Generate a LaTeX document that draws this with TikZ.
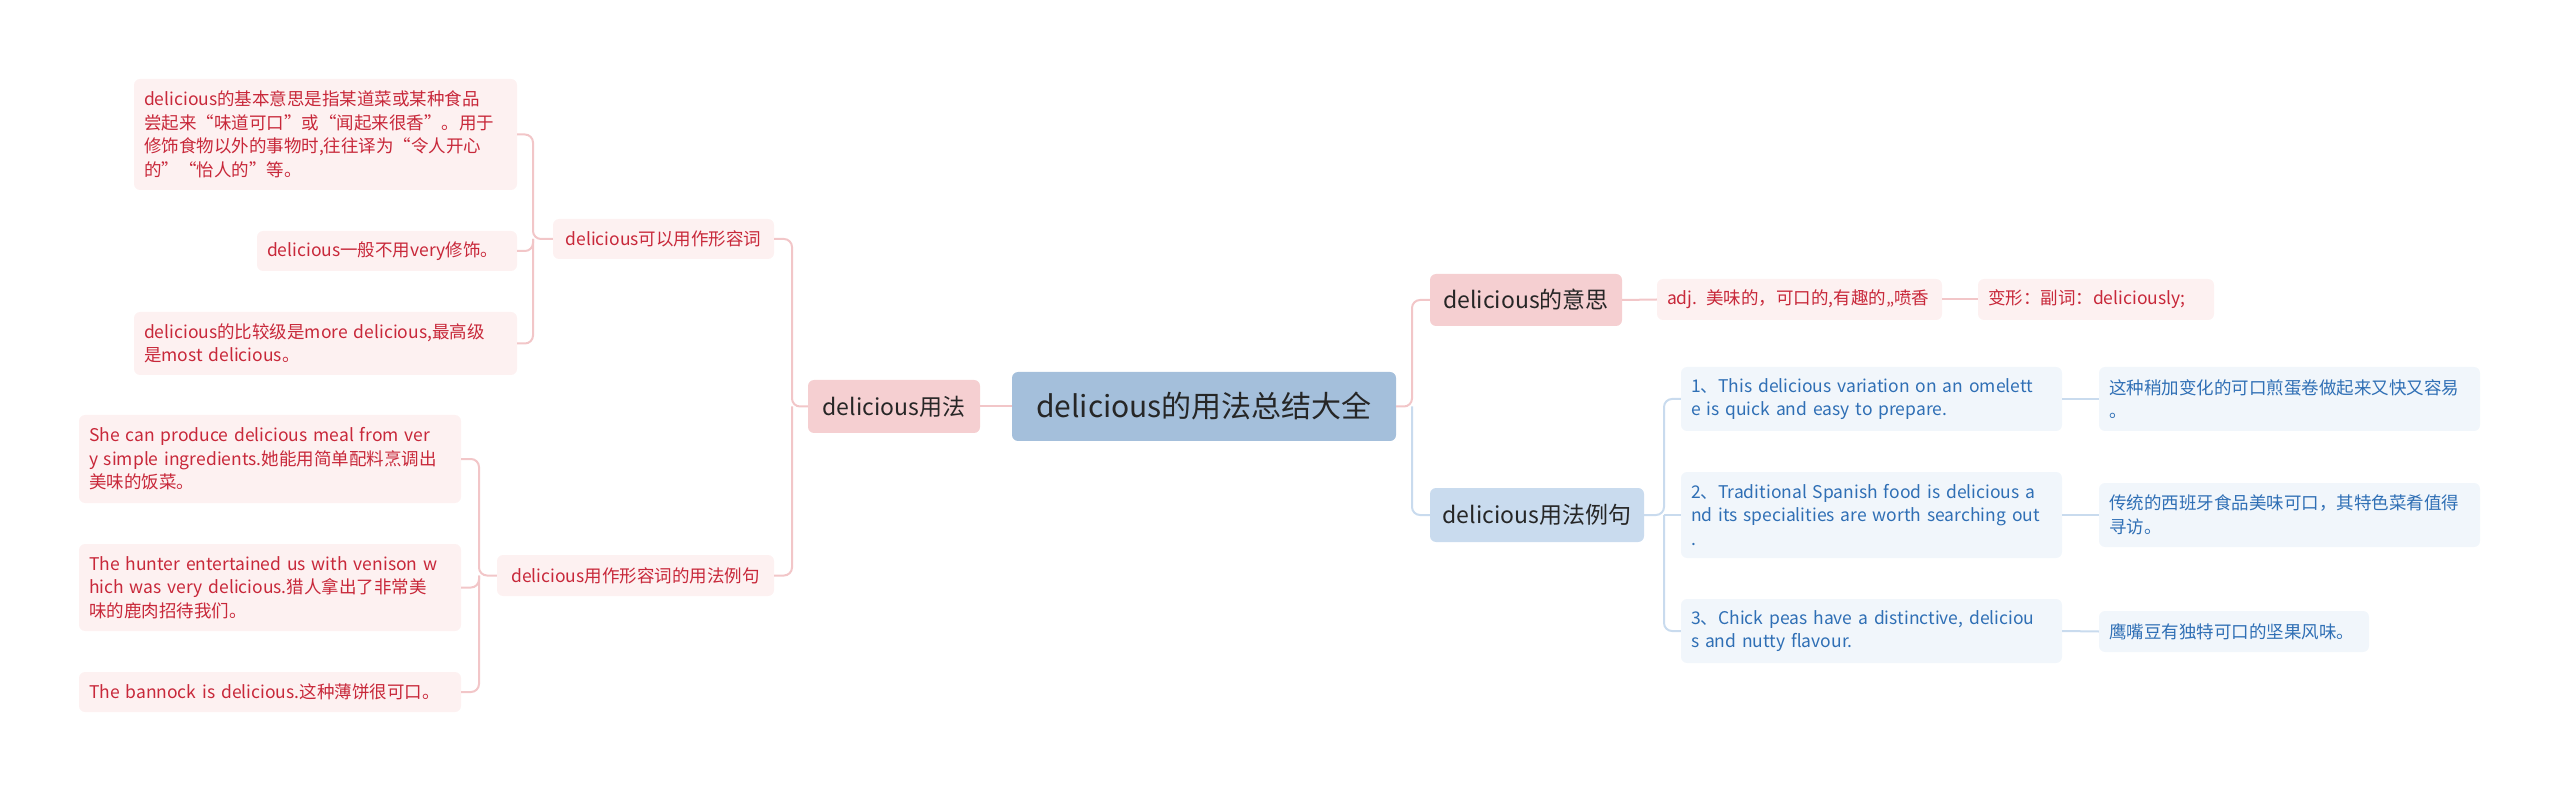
\documentclass[tikz,border=0pt]{standalone}
\usepackage{fontspec}
\setmainfont{Noto Sans CJK SC}
\definecolor{pkline}{HTML}{F2C6C8}
\definecolor{bline}{HTML}{C9DBEE}
\definecolor{pkfill}{HTML}{FDF1F1}
\definecolor{pktext}{HTML}{C8283A}
\definecolor{pkmid}{HTML}{F5CFD1}
\definecolor{bfill}{HTML}{F1F6FB}
\definecolor{btext}{HTML}{2F6FB5}
\definecolor{bmid}{HTML}{C9DBEE}
\definecolor{rootfill}{HTML}{A4BFDB}
\tikzset{
  box/.style={rectangle,rounded corners=6pt,inner xsep=10pt,inner ysep=0pt,align=left,anchor=center},
  pleaf/.style={box,fill=pkfill,text=pktext,font=\fontsize{17.5}{23.5}\selectfont},
  bleaf/.style={box,fill=bfill,text=btext,font=\fontsize{17.5}{23.5}\selectfont},
  pmid/.style={box,fill=pkmid,text=black!85,font=\fontsize{23}{28}\selectfont,align=center},
  bmidn/.style={box,fill=bmid,text=black!85,font=\fontsize{23}{28}\selectfont,align=center},
  pl/.style={draw=pkline,line width=2pt,rounded corners=8pt},
  bl/.style={draw=bline,line width=2pt,rounded corners=8pt},
  bx/.style 2 args={text width=#1pt-20pt,minimum height=#2pt},
}
\begin{document}
\begin{tikzpicture}[x=1pt,y=-1pt]
\useasboundingbox (0,0) rectangle (2560,791);
\node[box,fill=rootfill,text=black!85,font=\fontsize{30}{36}\selectfont,minimum width=384pt,minimum height=69pt,align=center] (root) at (1204,406.5) {delicious的用法总结大全};
% left
\node[pmid,minimum width=172pt,minimum height=53pt] (yf) at (894,406.5) {delicious用法};
\node[pleaf,bx={221}{40},align=center] (kyy) at (663.5,239) {delicious可以用作形容词};
\node[pleaf,bx={277}{41},align=center] (lj) at (635.5,575.5) {delicious用作形容词的用法例句};
\node[pleaf,bx={383}{111}] (a) at (325.5,134.5) {delicious的基本意思是指某道菜或某种食品\\尝起来“味道可口”或“闻起来很香”。用于\\修饰食物以外的事物时,往往译为“令人开心\\的”“怡人的”等。};
\node[pleaf,bx={260}{40}] (b) at (387,251) {delicious一般不用very修饰。};
\node[pleaf,bx={383}{63}] (c) at (325.5,343.5) {delicious的比较级是more delicious,最高级\\是most delicious。};
\node[pleaf,bx={382}{88}] (d) at (270,459) {She can produce delicious meal from ver\\y simple ingredients.她能用简单配料烹调出\\美味的饭菜。};
\node[pleaf,bx={382}{87}] (e) at (270,587.5) {The hunter entertained us with venison w\\hich was very delicious.猎人拿出了非常美\\味的鹿肉招待我们。};
\node[pleaf,bx={382}{40}] (f) at (270,692) {The bannock is delicious.这种薄饼很可口。};
% right
\node[pmid,minimum width=192pt,minimum height=52pt] (ys) at (1526,300) {delicious的意思};
\node[bmidn,minimum width=214pt,minimum height=54pt] (lr) at (1537,515) {delicious用法例句};
\node[pleaf,bx={285}{41}] (adj) at (1799.5,299.5) {adj. 美味的，可口的,有趣的,,喷香};
\node[pleaf,bx={236}{41}] (bx) at (2096,299.5) {变形：副词：deliciously;};
\node[bleaf,bx={381}{64}] (e1) at (1871.5,399) {1、This delicious variation on an omelett\\e is quick and easy to prepare.};
\node[bleaf,bx={381}{86}] (e2) at (1871.5,515) {2、Traditional Spanish food is delicious a\\nd its specialities are worth searching out\\.};
\node[bleaf,bx={381}{64}] (e3) at (1871.5,631) {3、Chick peas have a distinctive, deliciou\\s and nutty flavour.};
\node[bleaf,bx={381}{64}] (t1) at (2289.5,399) {这种稍加变化的可口煎蛋卷做起来又快又容易\\。};
\node[bleaf,bx={381}{64}] (t2) at (2289.5,515) {传统的西班牙食品美味可口，其特色菜肴值得\\寻访。};
\node[bleaf,bx={270}{41}] (t3) at (2234,631.5) {鹰嘴豆有独特可口的坚果风味。};
% connectors
\draw[pl] (root.west) -- (yf.east);
\coordinate (jl) at (792,406.5);
\draw[pl] (yf.west) -- (jl) |- (kyy.east);
\draw[pl] (jl) |- (lj.east);
\coordinate (j1) at (533,239);
\draw[pl] (kyy.west) -- (j1) |- (a.east);
\draw[pl] (j1) |- (b.east);
\draw[pl] (j1) |- (c.east);
\coordinate (j2) at (479,575.5);
\draw[pl] (lj.west) -- (j2) |- (d.east);
\draw[pl] (j2) |- (e.east);
\draw[pl] (j2) |- (f.east);
\coordinate (jr) at (1412,406.5);
\draw[pl] (root.east) -- (jr) |- (ys.west);
\draw[bl] (jr) |- (lr.west);
\draw[pl] (ys.east) -- (adj.west);
\draw[pl] (adj.east) -- (bx.west);
\coordinate (j3) at (1664,515);
\draw[bl] (lr.east) -- (j3) |- (e1.west);
\draw[bl] (j3) -- (e2.west);
\draw[bl] (j3) |- (e3.west);
\draw[bl] (e1.east) -- (t1.west);
\draw[bl] (e2.east) -- (t2.west);
\draw[bl] (e3.east) -- (t3.west);
\end{tikzpicture}
\end{document}
